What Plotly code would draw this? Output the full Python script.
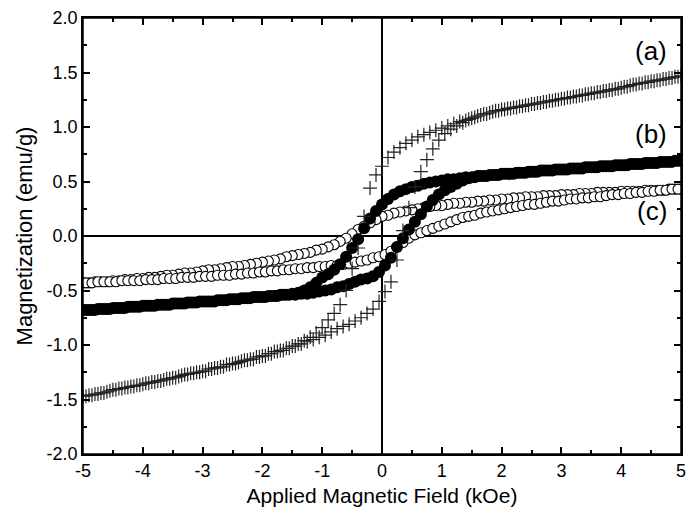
import plotly.graph_objects as go

# Field steps (kOe): descending sweep (+5 -> -5) and ascending sweep (-5 -> +5)
FIELD_DOWN = [5.0, 4.9, 4.8, 4.7, 4.6, 4.5, 4.4, 4.3, 4.2, 4.1, 4.0, 3.9, 3.8, 3.7, 3.6, 3.5, 3.4, 3.3, 3.2, 3.1,
              3.0, 2.9, 2.8, 2.7, 2.6, 2.5, 2.4, 2.3, 2.2, 2.1, 2.0, 1.9, 1.8, 1.7, 1.6, 1.5, 1.4, 1.3, 1.2, 1.1,
              1.0, 0.9, 0.8, 0.7, 0.6, 0.5, 0.4, 0.3, 0.2, 0.1, 0.0, -0.1, -0.2, -0.3, -0.4, -0.5, -0.6, -0.7, -0.8, -0.9,
              -1.0, -1.1, -1.2, -1.3, -1.4, -1.5, -1.6, -1.7, -1.8, -1.9, -2.0, -2.1, -2.2, -2.3, -2.4, -2.5, -2.6, -2.7, -2.8, -2.9,
              -3.0, -3.1, -3.2, -3.3, -3.4, -3.5, -3.6, -3.7, -3.8, -3.9, -4.0, -4.1, -4.2, -4.3, -4.4, -4.5, -4.6, -4.7, -4.8, -4.9,
              -5.0]
FIELD_UP = [-4.95, -4.85, -4.75, -4.65, -4.55, -4.45, -4.35, -4.25, -4.15, -4.05, -3.95, -3.85, -3.75, -3.65, -3.55,
            -3.45, -3.35, -3.25, -3.15, -3.05, -2.95, -2.85, -2.75, -2.65, -2.55, -2.45, -2.35, -2.25, -2.15, -2.05,
            -1.95, -1.85, -1.75, -1.65, -1.55, -1.45, -1.35, -1.25, -1.15, -1.05, -0.95, -0.85, -0.75, -0.65, -0.55,
            -0.45, -0.35, -0.25, -0.15, -0.05, 0.05, 0.15, 0.25, 0.35, 0.45, 0.55, 0.65, 0.75, 0.85, 0.95,
            1.05, 1.15, 1.25, 1.35, 1.45, 1.55, 1.65, 1.75, 1.85, 1.95, 2.05, 2.15, 2.25, 2.35, 2.45,
            2.55, 2.65, 2.75, 2.85, 2.95, 3.05, 3.15, 3.25, 3.35, 3.45, 3.55, 3.65, 3.75, 3.85, 3.95,
            4.05, 4.15, 4.25, 4.35, 4.45, 4.55, 4.65, 4.75, 4.85, 4.95]

# Sample (a): magnetization (emu/g)
A_DOWN = [1.47, 1.46, 1.45, 1.44, 1.43, 1.42, 1.41, 1.40, 1.39, 1.37, 1.36, 1.35, 1.34, 1.33, 1.32, 1.31, 1.30, 1.29, 1.28, 1.27,
          1.26, 1.25, 1.24, 1.23, 1.22, 1.21, 1.20, 1.19, 1.18, 1.17, 1.16, 1.15, 1.13, 1.12, 1.10, 1.08, 1.06, 1.05, 1.03, 1.01,
          0.99, 0.97, 0.95, 0.93, 0.91, 0.88, 0.85, 0.81, 0.77, 0.72, 0.64, 0.56, 0.44, 0.18, -0.11, -0.30, -0.50, -0.63, -0.71, -0.77,
          -0.84, -0.89, -0.93, -0.96, -0.99, -1.01, -1.03, -1.05, -1.06, -1.08, -1.10, -1.11, -1.13, -1.14, -1.16, -1.17, -1.18, -1.20, -1.21, -1.22,
          -1.24, -1.25, -1.26, -1.27, -1.29, -1.30, -1.31, -1.33, -1.34, -1.35, -1.36, -1.37, -1.38, -1.39, -1.40, -1.41, -1.43, -1.44, -1.45, -1.46,
          -1.47]
A_UP = [-1.47, -1.46, -1.45, -1.44, -1.42, -1.41, -1.40, -1.39, -1.38, -1.37, -1.35, -1.34, -1.33, -1.32, -1.31,
        -1.30, -1.28, -1.27, -1.26, -1.25, -1.24, -1.22, -1.21, -1.20, -1.18, -1.17, -1.15, -1.14, -1.13, -1.11,
        -1.10, -1.08, -1.06, -1.05, -1.03, -1.01, -0.99, -0.97, -0.95, -0.93, -0.91, -0.88, -0.85, -0.83, -0.81,
        -0.78, -0.75, -0.71, -0.67, -0.60, -0.51, -0.42, -0.22, 0.05, 0.26, 0.45, 0.59, 0.70, 0.80, 0.88,
        0.94, 0.98, 1.01, 1.04, 1.07, 1.09, 1.11, 1.12, 1.14, 1.15, 1.16, 1.17, 1.18, 1.19, 1.20,
        1.21, 1.22, 1.23, 1.24, 1.25, 1.26, 1.27, 1.28, 1.29, 1.30, 1.31, 1.32, 1.33, 1.34, 1.35,
        1.37, 1.38, 1.39, 1.40, 1.41, 1.42, 1.43, 1.44, 1.45, 1.46]

# Sample (b)
B_DOWN = [0.69, 0.69, 0.68, 0.68, 0.67, 0.67, 0.67, 0.66, 0.66, 0.65, 0.65, 0.65, 0.64, 0.64, 0.63, 0.63, 0.63, 0.62, 0.62, 0.61,
          0.61, 0.61, 0.60, 0.60, 0.59, 0.59, 0.58, 0.58, 0.57, 0.57, 0.57, 0.56, 0.56, 0.55, 0.55, 0.54, 0.54, 0.53, 0.52, 0.52,
          0.51, 0.50, 0.49, 0.48, 0.46, 0.45, 0.43, 0.41, 0.38, 0.34, 0.29, 0.23, 0.16, 0.07, -0.03, -0.11, -0.19, -0.26, -0.31, -0.35,
          -0.38, -0.43, -0.47, -0.50, -0.52, -0.53, -0.54, -0.54, -0.55, -0.55, -0.56, -0.56, -0.57, -0.57, -0.58, -0.58, -0.59, -0.59, -0.60, -0.60,
          -0.60, -0.61, -0.61, -0.62, -0.62, -0.62, -0.63, -0.63, -0.64, -0.64, -0.64, -0.65, -0.65, -0.66, -0.66, -0.66, -0.67, -0.67, -0.68, -0.68,
          -0.68]
B_UP = [-0.68, -0.68, -0.67, -0.67, -0.67, -0.66, -0.66, -0.65, -0.65, -0.65, -0.64, -0.64, -0.63, -0.63, -0.63,
        -0.62, -0.62, -0.61, -0.61, -0.60, -0.60, -0.60, -0.59, -0.59, -0.58, -0.58, -0.57, -0.57, -0.56, -0.56,
        -0.56, -0.55, -0.55, -0.54, -0.54, -0.54, -0.53, -0.53, -0.52, -0.51, -0.50, -0.49, -0.47, -0.46, -0.44,
        -0.42, -0.40, -0.39, -0.37, -0.33, -0.27, -0.20, -0.10, -0.02, 0.06, 0.13, 0.20, 0.27, 0.33, 0.38,
        0.42, 0.45, 0.48, 0.51, 0.53, 0.54, 0.55, 0.55, 0.56, 0.56, 0.57, 0.57, 0.58, 0.58, 0.59,
        0.59, 0.60, 0.60, 0.60, 0.61, 0.61, 0.62, 0.62, 0.62, 0.63, 0.63, 0.64, 0.64, 0.64, 0.65,
        0.65, 0.66, 0.66, 0.66, 0.67, 0.67, 0.68, 0.68, 0.68, 0.69]

# Sample (c)
C_DOWN = [0.43, 0.43, 0.43, 0.42, 0.42, 0.42, 0.42, 0.41, 0.41, 0.41, 0.41, 0.40, 0.40, 0.40, 0.40, 0.39, 0.39, 0.39, 0.38, 0.38,
          0.38, 0.37, 0.37, 0.37, 0.36, 0.36, 0.36, 0.35, 0.35, 0.34, 0.34, 0.33, 0.33, 0.32, 0.32, 0.31, 0.31, 0.30, 0.30, 0.29,
          0.28, 0.28, 0.27, 0.26, 0.25, 0.24, 0.23, 0.22, 0.21, 0.19, 0.18, 0.15, 0.12, 0.09, 0.06, 0.02, -0.02, -0.05, -0.08, -0.10,
          -0.12, -0.13, -0.15, -0.16, -0.17, -0.18, -0.19, -0.21, -0.22, -0.23, -0.24, -0.25, -0.26, -0.27, -0.28, -0.28, -0.29, -0.30, -0.31, -0.31,
          -0.32, -0.33, -0.34, -0.34, -0.35, -0.36, -0.36, -0.37, -0.38, -0.38, -0.39, -0.39, -0.40, -0.40, -0.41, -0.41, -0.42, -0.42, -0.42, -0.43,
          -0.43]
C_UP = [-0.43, -0.43, -0.42, -0.42, -0.42, -0.42, -0.41, -0.41, -0.41, -0.41, -0.40, -0.40, -0.40, -0.39, -0.39,
        -0.39, -0.38, -0.38, -0.38, -0.37, -0.37, -0.37, -0.36, -0.36, -0.36, -0.35, -0.35, -0.34, -0.34, -0.33,
        -0.33, -0.32, -0.32, -0.31, -0.31, -0.30, -0.30, -0.29, -0.29, -0.28, -0.28, -0.27, -0.27, -0.26, -0.25,
        -0.24, -0.23, -0.22, -0.20, -0.19, -0.17, -0.14, -0.10, -0.06, -0.02, 0.01, 0.03, 0.05, 0.07, 0.09,
        0.11, 0.13, 0.15, 0.17, 0.18, 0.19, 0.21, 0.22, 0.23, 0.24, 0.25, 0.26, 0.27, 0.28, 0.29,
        0.29, 0.30, 0.31, 0.32, 0.32, 0.33, 0.34, 0.34, 0.35, 0.35, 0.36, 0.36, 0.37, 0.38, 0.38,
        0.39, 0.39, 0.40, 0.40, 0.41, 0.41, 0.42, 0.42, 0.43, 0.43]

X_TICKS = [-5, -4, -3, -2, -1, 0, 1, 2, 3, 4, 5]
X_TICK_LABELS = ["-5", "-4", "-3", "-2", "-1", "0", "1", "2", "3", "4", "5"]
X_MINOR = [-4.5, -3.5, -2.5, -1.5, -0.5, 0.5, 1.5, 2.5, 3.5, 4.5]
Y_TICKS = [-2.0, -1.5, -1.0, -0.5, 0.0, 0.5, 1.0, 1.5, 2.0]
Y_TICK_LABELS = ["-2.0", "-1.5", "-1.0", "-0.5", "0.0", "0.5", "1.0", "1.5", "2.0"]
Y_MINOR = [-1.75, -1.25, -0.75, -0.25, 0.25, 0.75, 1.25, 1.75]

SAMPLE_LABELS = ["(a)", "(b)", "(c)"]
LABEL_POS_Y = [1.70, 0.94, 0.23]

FONT = "Liberation Sans"

fig = go.Figure()

fig.add_trace(go.Scatter(
    x=FIELD_DOWN + FIELD_UP, y=C_DOWN + C_UP, mode="markers", name="(c)",
    marker=dict(symbol="circle", size=10, color="white", line=dict(color="black", width=1.1)),
))
fig.add_trace(go.Scatter(
    x=FIELD_DOWN + FIELD_UP, y=B_DOWN + B_UP, mode="markers", name="(b)",
    marker=dict(symbol="circle", size=12, color="black", line=dict(width=0)),
))
# sample (a) drawn on the overlay axes (same ranges), which carry the minor ticks
fig.add_trace(go.Scatter(
    x=FIELD_DOWN + FIELD_UP, y=A_DOWN + A_UP, mode="markers", name="(a)",
    xaxis="x2", yaxis="y2",
    marker=dict(symbol="cross-thin", size=10, color="#222", line=dict(color="#222", width=1.2)),
))

for txt, yy in zip(SAMPLE_LABELS, LABEL_POS_Y):
    fig.add_annotation(x=4.8, y=yy, xref="x", yref="y", text=txt, showarrow=False,
                       xanchor="right", yanchor="middle",
                       font=dict(family=FONT, size=26, color="black"))

# plot frame
fig.add_shape(type="rect", xref="paper", yref="paper", x0=0, x1=1, y0=0, y1=1,
              line=dict(color="black", width=1.5), layer="above")

fig.update_layout(
    width=694, height=520,
    margin=dict(l=83, r=8, t=14, b=66),
    paper_bgcolor="white", plot_bgcolor="white",
    showlegend=False,
    font=dict(family=FONT, color="black"),
    xaxis=dict(
        range=[-5, 5], tickmode="array", tickvals=X_TICKS, ticktext=X_TICK_LABELS,
        showline=True, linecolor="black", linewidth=1.5, mirror="ticks",
        ticks="inside", ticklen=7, tickwidth=1.5, tickcolor="black",
        showgrid=False, zeroline=True, zerolinecolor="black", zerolinewidth=1.5,
        tickfont=dict(size=18, color="black"),
        title=dict(text="Applied Magnetic Field (kOe)", font=dict(size=21, color="black"), standoff=8),
    ),
    yaxis=dict(
        range=[-2, 2], tickmode="array", tickvals=Y_TICKS, ticktext=Y_TICK_LABELS,
        showline=True, linecolor="black", linewidth=1.5, mirror="ticks",
        ticks="inside", ticklen=7, tickwidth=1.5, tickcolor="black",
        showgrid=False, zeroline=True, zerolinecolor="black", zerolinewidth=1.5,
        tickfont=dict(size=18, color="black"),
        title=dict(text="Magnetization (emu/g)", font=dict(size=22, color="black"), standoff=8),
    ),
    xaxis2=dict(
        range=[-5, 5], overlaying="x", anchor="y2", side="bottom",
        tickmode="array", tickvals=X_MINOR, showticklabels=False,
        ticks="inside", ticklen=4, tickwidth=1.5, tickcolor="black", mirror="ticks",
        showline=False, showgrid=False, zeroline=False,
    ),
    yaxis2=dict(
        range=[-2, 2], overlaying="y", anchor="x2", side="left",
        tickmode="array", tickvals=Y_MINOR, showticklabels=False,
        ticks="inside", ticklen=4, tickwidth=1.5, tickcolor="black", mirror="ticks",
        showline=False, showgrid=False, zeroline=False,
    ),
)

fig.write_html("out.html", config={"displayModeBar": False},
               post_script="document.body.style.margin='0';")
